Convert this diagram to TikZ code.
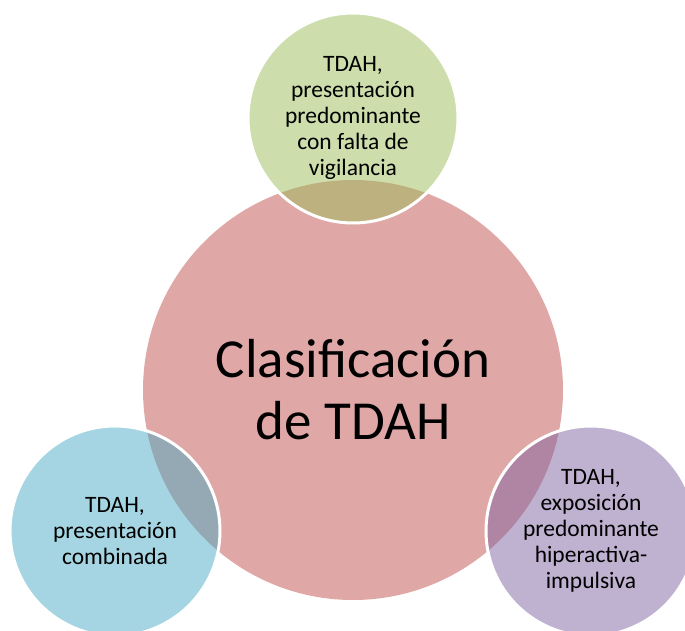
\documentclass[tikz,border=0pt]{standalone}
\usepackage{fontspec}
\setmainfont{Carlito}
\definecolor{redbase}{HTML}{C0504D}
\definecolor{greenbase}{HTML}{9BBB59}
\definecolor{bluebase}{HTML}{4BACC6}
\definecolor{purplebase}{HTML}{8064A2}
\begin{document}
\begin{tikzpicture}[x=1pt,y=-1pt,
  mainc/.style={circle, fill=redbase, fill opacity=0.5, text opacity=1, inner sep=0pt,
    minimum size=420pt, align=center, font=\fontsize{55}{62}\selectfont},
  subc/.style={circle, fill opacity=0.5, draw=white, draw opacity=1, line width=3pt,
    text opacity=1, inner sep=0pt, minimum size=210pt, align=center,
    font=\fontsize{23.5}{26}\selectfont}]
\useasboundingbox (0,0) rectangle (685,631);
\clip (0,0) rectangle (685,631);
\node[mainc] (c) at (353,390) {Clasificación\\de TDAH};
\node[subc, fill=greenbase] (t) at (353,118) {TDAH,\\presentación\\predominante\\con falta de\\vigilancia};
\node[subc, fill=bluebase] (l) at (115,531) {TDAH,\\presentación\\combinada};
\node[subc, fill=purplebase] (r) at (591,531) {TDAH,\\exposición\\predominante\\hiperactiva-\\impulsiva};
\end{tikzpicture}
\end{document}
